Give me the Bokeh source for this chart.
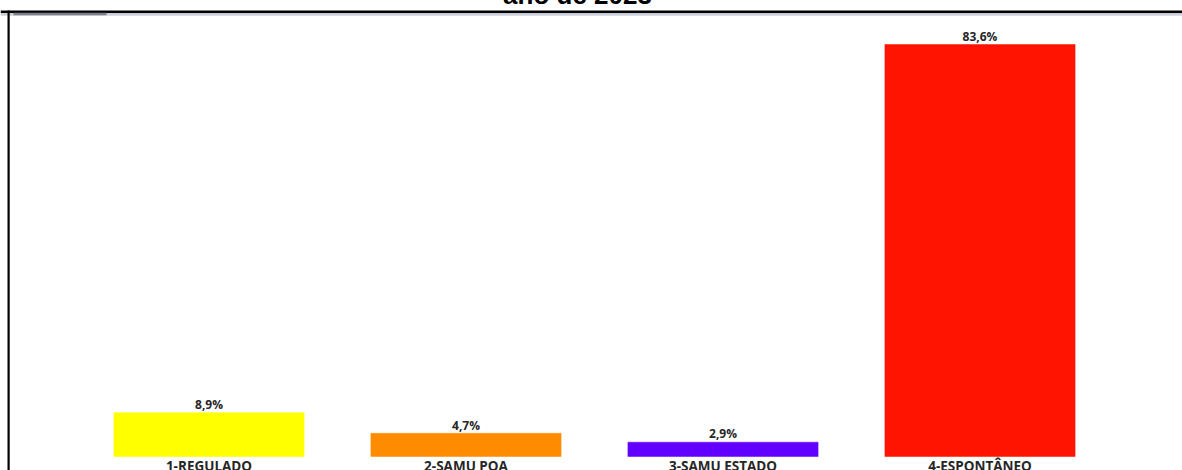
from bokeh.plotting import figure
from bokeh.models import Range1d, ColumnDataSource
from bokeh.core.properties import value
from bokeh.embed import file_html
from bokeh.resources import INLINE

categories = ["1-REGULADO", "2-SAMU POA", "3-SAMU ESTADO", "4-ESPONTÂNEO"]
percent = [8.9, 4.7, 2.9, 83.6]
value_labels = ["8,9%", "4,7%", "2,9%", "83,6%"]
colors = ["#FFFF00", "#FF8C00", "#6200FF", "#FF1400"]
title_text = "ano de 2023"

# canvas geometry (pixels); the figure is pulled SHIFT px above the window
# top so that, as in the original screenshot, the title is cut by the edge
SHIFT = 20
W, H = 1182, 470 + SHIFT
STEP = 257.0               # pixels per category
X0PX = 208.5               # canvas x of first category centre
Y0PX = 456.0 + SHIFT       # canvas y of the zero line
K = 4.928                  # pixels per percent point

x_start = -X0PX / STEP
x_end = (W - X0PX) / STEP
y_start = -(H - Y0PX) / K
y_end = Y0PX / K


def cx(px):
    return x_start + px / STEP


def cy(py):
    # py given in window pixels
    return (Y0PX - (py + SHIFT)) / K


xs = list(range(len(categories)))
src = ColumnDataSource(dict(x=xs, cat=categories, pct=percent,
                            zero=[0] * len(categories),
                            lbl=value_labels, c=colors))

p = figure(width=W, height=H,
           x_range=Range1d(x_start, x_end), y_range=Range1d(y_start, y_end),
           output_backend="svg", toolbar_location=None,
           min_border_left=0, min_border_right=0,
           min_border_top=0, min_border_bottom=0)
p.styles = {"margin-top": f"-{SHIFT}px"}
p.background_fill_color = "white"
p.border_fill_color = "white"
p.outline_line_color = None
p.xgrid.visible = False
p.ygrid.visible = False
p.xaxis.visible = False
p.yaxis.visible = False

# decorative window border of the original screenshot
p.quad(left=[cx(0)], right=[cx(W)], top=[cy(10)], bottom=[cy(12.8)],
       fill_color="#000000", line_color=None)
p.quad(left=[cx(0)], right=[cx(W)], top=[cy(12.8)], bottom=[cy(15.3)],
       fill_color="#cdd0da", line_color=None)
p.quad(left=[cx(13)], right=[cx(106)], top=[cy(12.3)], bottom=[cy(14.7)],
       fill_color="#7c8088", line_color=None)
p.quad(left=[cx(7)], right=[cx(9.2)], top=[cy(10)], bottom=[cy(470)],
       fill_color="#000000", line_color=None)

# bars
p.vbar(x="x", top="pct", width=0.74, fill_color="c", line_color="c",
       line_alpha=0.5, source=src)

# value labels
p.text(x="x", y="pct", text="lbl", y_offset=-16.8, text_align="center",
       text_baseline="top", text_font=value("Open Sans"),
       text_font_style="bold", text_font_size="12px", text_color="#262626",
       source=src)

# category labels
p.text(x="x", y="zero", text="cat", y_offset=0, text_align="center",
       text_baseline="top", text_font=value("Open Sans"),
       text_font_style="bold", text_font_size="13.5px", text_color="#262626",
       source=src)

# title (cut by the top of the window, as in the original)
p.text(x=[cx(577)], y=[cy(-5.5)], text=[title_text], text_align="center",
       text_baseline="alphabetic", text_font=value("Liberation Sans"),
       text_font_style="bold", text_font_size="26px", text_color="#000000")

open("out.html", "w").write(file_html(p, INLINE))
